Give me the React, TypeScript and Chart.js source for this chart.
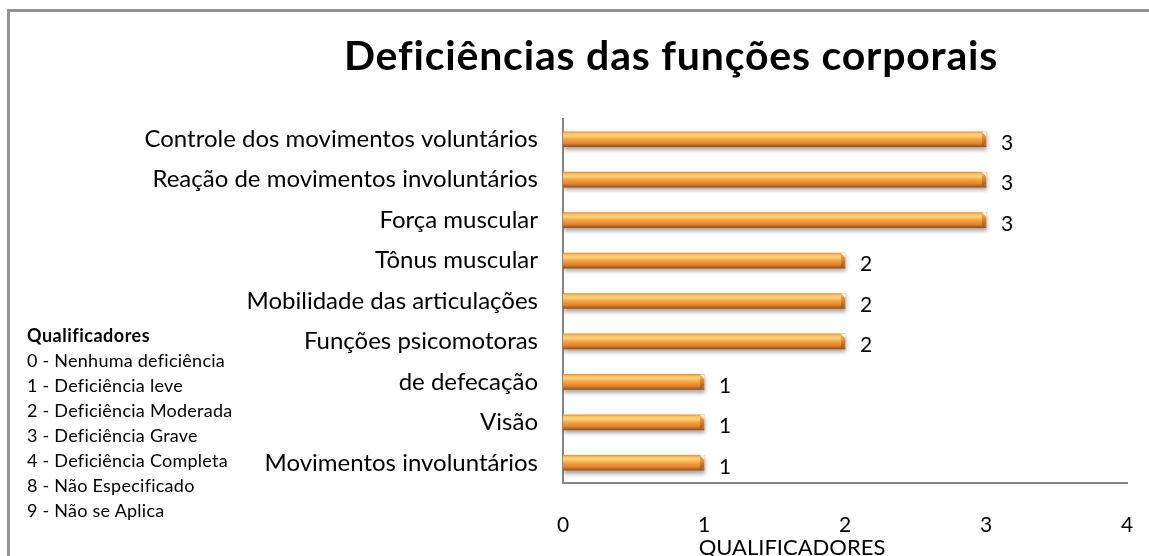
import React, { useEffect, useRef } from "react";
import { Chart, registerables } from "chart.js";

Chart.register(...registerables);

const chartTitle = "Deficiências das funções corporais";
const axisTitle = "QUALIFICADORES";
const categories = [
  "Controle dos movimentos voluntários",
  "Reação de movimentos involuntários",
  "Força muscular",
  "Tônus muscular",
  "Mobilidade das articulações",
  "Funções psicomotoras",
  "de defecação",
  "Visão",
  "Movimentos involuntários",
];
const values = [3, 3, 3, 2, 2, 2, 1, 1, 1];
const xMin = 0;
const xMax = 4;
const legendTitle = "Qualificadores";
const legendItems = [
  "0 - Nenhuma deficiência",
  "1 - Deficiência leve",
  "2 - Deficiência Moderada",
  "3 - Deficiência Grave",
  "4 - Deficiência Completa",
  "8 - Não Especificado",
  "9 - Não se Aplica",
];

const FONT = "Lato, 'Open Sans', sans-serif";
const BAR_H = 15;

export default function App() {
  const ref = useRef<HTMLCanvasElement | null>(null);

  useEffect(() => {
    if (!ref.current) return;

    const barPlugin = {
      id: "barDecor",
      beforeDatasetsDraw(chart: any) {
        const c = chart.ctx;
        c.save();
        c.shadowColor = "rgba(0,0,0,0.35)";
        c.shadowBlur = 4;
        c.shadowOffsetY = 3;
        c.shadowOffsetX = 1;
      },
      afterDatasetsDraw(chart: any) {
        chart.ctx.restore();
        const c = chart.ctx;
        const meta = chart.getDatasetMeta(0);
        c.save();
        // bevelled right end of each bar
        meta.data.forEach((el: any) => {
          const top = el.y - BAR_H / 2;
          const bot = el.y + BAR_H / 2;
          const x = el.x;
          const b = 4;
          c.beginPath();
          c.moveTo(x - b, top);
          c.lineTo(x, top + b);
          c.lineTo(x, bot - b);
          c.lineTo(x - b, bot);
          c.closePath();
          const g = c.createLinearGradient(0, top, 0, bot);
          g.addColorStop(0, "rgba(248,180,80,0.95)");
          g.addColorStop(0.5, "rgba(215,125,40,0.95)");
          g.addColorStop(1, "rgba(150,80,25,0.95)");
          c.fillStyle = g;
          c.fill();
          c.beginPath();
          c.moveTo(x - b, top);
          c.lineTo(x, top);
          c.lineTo(x, top + b);
          c.closePath();
          c.fillStyle = "#ffffff";
          c.fill();
        });
        c.fillStyle = "#000";
        c.font = `21px ${FONT}`;
        c.textAlign = "left";
        c.textBaseline = "middle";
        meta.data.forEach((el: any, i: number) => {
          c.fillText(String(values[i]), el.x + 15, el.y + 4);
        });
        c.restore();
      },
    };

    const chart = new Chart(ref.current, {
      type: "bar",
      data: {
        labels: categories,
        datasets: [
          {
            data: values,
            barThickness: BAR_H,
            borderWidth: 0,
            backgroundColor: (ctx: any) => {
              const ch = ctx.chart;
              const ys = ch.scales && ch.scales.y;
              if (!ys || ctx.dataIndex == null) return "#f0a040";
              const yc = ys.getPixelForValue(ctx.dataIndex);
              if (!isFinite(yc)) return "#f0a040";
              const g = ch.ctx.createLinearGradient(0, yc - BAR_H / 2, 0, yc + BAR_H / 2);
              g.addColorStop(0, "#ee8e2e");
              g.addColorStop(0.12, "#fac466");
              g.addColorStop(0.28, "#fcd279");
              g.addColorStop(0.5, "#f5a443");
              g.addColorStop(0.78, "#e2842b");
              g.addColorStop(1, "#9a511a");
              return g;
            },
          },
        ],
      },
      options: {
        indexAxis: "y",
        animation: false,
        responsive: false,
        events: [],
        layout: { padding: { left: 0, right: 22, top: 119, bottom: 0 } },
        plugins: {
          legend: { display: false },
          tooltip: { enabled: false },
          title: { display: false },
        },
        scales: {
          x: {
            min: xMin,
            max: xMax,
            ticks: {
              stepSize: 1,
              color: "#000",
              padding: 3,
              font: { family: FONT, size: 21 },
            },
            grid: { display: false, drawTicks: true, tickLength: 27 },
            border: { display: true, color: "#868686", width: 2 },
            afterFit: (s: any) => {
              s.height = 73;
            },
          },
          y: {
            ticks: {
              color: "#000",
              padding: 25,
              font: { family: FONT, size: 24 },
            },
            grid: { display: false, drawTicks: false },
            border: { display: true, color: "#868686", width: 2 },
            afterFit: (s: any) => {
              s.width = 563;
            },
          },
        },
      },
      plugins: [barPlugin],
    } as any);
    chart.update();

    return () => chart.destroy();
  }, []);

  return (
    <div
      style={{
        position: "fixed",
        left: 0,
        top: 0,
        width: 1149,
        height: 556,
        background: "#fff",
        overflow: "hidden",
        fontFamily: FONT,
      }}
    >
      <div
        style={{
          position: "absolute",
          left: 7,
          top: 9,
          width: 1300,
          height: 700,
          borderTop: "3px solid #939393",
          borderLeft: "3px solid #939393",
        }}
      />
      <canvas ref={ref} width={1149} height={556} style={{ position: "absolute", left: 0, top: 0 }} />
      <div
        style={{
          position: "absolute",
          left: 671,
          top: 54,
          transform: "translate(-50%, -50%)",
          whiteSpace: "nowrap",
          fontWeight: "bold",
          fontSize: 41,
          letterSpacing: "0.8px",
          color: "#000",
        }}
      >
        {chartTitle}
      </div>
      <div
        style={{
          position: "absolute",
          left: 27,
          top: 323,
          fontSize: 18,
          letterSpacing: "0.25px",
          lineHeight: "25px",
          color: "#000",
          whiteSpace: "nowrap",
        }}
      >
        <div style={{ fontWeight: "bold", letterSpacing: "0.5px" }}>{legendTitle}</div>
        {legendItems.map((t) => (
          <div key={t}>{t}</div>
        ))}
      </div>
      <div
        style={{
          position: "absolute",
          left: 792,
          top: 546,
          transform: "translate(-50%, -50%)",
          whiteSpace: "nowrap",
          fontSize: 22,
          color: "#000",
        }}
      >
        {axisTitle}
      </div>
    </div>
  );
}
